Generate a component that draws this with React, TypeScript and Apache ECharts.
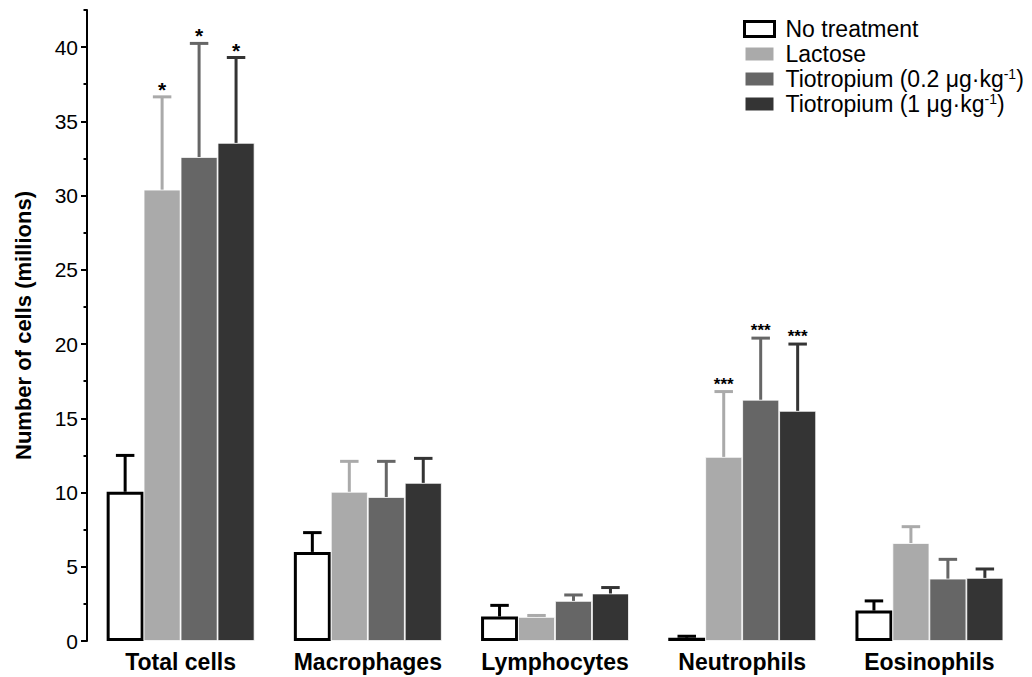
import React, { useEffect, useRef } from 'react';
import * as echarts from 'echarts';

const categories = ['Total cells', 'Macrophages', 'Lymphocytes', 'Neutrophils', 'Eosinophils'];
const treatments = ['No treatment', 'Lactose', 'Tiotropium (0.2 μg·kg⁻¹)', 'Tiotropium (1 μg·kg⁻¹)'];

const noTreatment = [10.05, 6.0, 1.65, 0.22, 2.05];
const noTreatmentSD = [2.45, 1.3, 0.75, 0.1, 0.65];
const lactose = [30.4, 10.05, 1.62, 12.4, 6.6];
const lactoseSD = [6.25, 2.05, 0.1, 4.4, 1.1];
const tio02 = [32.6, 9.7, 2.7, 16.25, 4.2];
const tio02SD = [7.65, 2.4, 0.4, 4.15, 1.3];
const tio1 = [33.55, 10.65, 3.2, 15.5, 4.25];
const tio1SD = [5.75, 1.65, 0.4, 4.5, 0.6];

const noTreatmentSig = ['', '', '', '', ''];
const lactoseSig = ['*', '', '', '***', ''];
const tio02Sig = ['*', '', '', '***', ''];
const tio1Sig = ['*', '', '', '***', ''];

const yTicks = [0, 5, 10, 15, 20, 25, 30, 35, 40];

const FONT = "'Liberation Sans', Arial, Helvetica, sans-serif";
const GAP = 0.21;

const colors = ['#000000', '#aaaaaa', '#666666', '#343434'];

function makeErr(t: number, means: number[], sds: number[], sig: string[], color: string) {
  return {
    type: 'custom',
    name: 'err' + t,
    coordinateSystem: 'cartesian2d',
    xAxisIndex: 0,
    yAxisIndex: 0,
    z: 5,
    silent: true,
    data: means.map((m, i) => [i, m + sds[i], m]),
    encode: { x: 0, y: 1 },
    renderItem: (params: any, api: any) => {
      const i = api.value(0);
      const top = api.value(1);
      const mean = api.value(2);
      const catW = api.size([1, 0])[0];
      const barW = (catW * (1 - GAP)) / 4;
      const base = api.coord([i, mean]);
      const pTop = api.coord([i, top]);
      const cx = base[0] + (t - 1.5) * barW;
      const capHalf = barW * 0.25;
      const children: any[] = [
        {
          type: 'line',
          shape: { x1: cx, y1: base[1], x2: cx, y2: pTop[1] },
          style: { stroke: color, lineWidth: 3 },
        },
        {
          type: 'line',
          shape: { x1: cx - capHalf, y1: pTop[1], x2: cx + capHalf, y2: pTop[1] },
          style: { stroke: color, lineWidth: 3 },
        },
      ];
      const s = sig[params.dataIndex];
      if (s) {
        const single = s.length === 1;
        children.push({
          type: 'text',
          x: cx,
          y: pTop[1] + (single ? 3 : 1),
          style: {
            text: s,
            fill: '#000',
            fontSize: single ? 21 : 17,
            fontWeight: 'bold',
            fontFamily: FONT,
            align: 'center',
            verticalAlign: 'bottom',
          },
        });
      }
      return { type: 'group', children };
    },
  };
}

export default function App() {
  const ref = useRef<HTMLDivElement>(null);

  useEffect(() => {
    document.body.style.margin = '0';
    if (!ref.current) return;
    const chart = echarts.init(ref.current, null, { renderer: 'svg' });

    const barBase = {
      type: 'bar',
      xAxisIndex: 0,
      yAxisIndex: 0,
      barGap: '0%',
      barCategoryGap: GAP * 100 + '%',
    };

    const option: any = {
      animation: false,
      backgroundColor: '#ffffff',
      textStyle: { fontFamily: FONT },
      grid: { left: 87, right: 9, top: 10, bottom: 36, outerBoundsMode: 'none' },
      legend: {
        data: [
          { name: treatments[0], itemStyle: { color: '#ffffff', borderColor: '#000000', borderWidth: 3 } },
          treatments[1],
          treatments[2],
          treatments[3],
        ],
        orient: 'vertical',
        left: 743,
        top: 17,
        padding: 0,
        itemWidth: 30,
        itemHeight: 15,
        itemGap: 1,
        icon: 'rect',
        selectedMode: false,
        formatter: (name: string) => {
          const parts = name.split('⁻¹');
          if (parts.length === 2) return `{n|${parts[0]}}{s|-1}{n|${parts[1]}}`;
          return `{n|${name}}`;
        },
        textStyle: {
          padding: [0, 0, 0, 6],
          lineHeight: 24,
          fontSize: 23,
          rich: {
            n: { fontSize: 23, lineHeight: 24, fontFamily: FONT, color: '#000' },
            s: { fontSize: 14, padding: [0, 0, 10, 0], fontFamily: FONT, color: '#000' },
          },
        },
      },
      xAxis: {
        type: 'category',
        data: categories,
        axisLine: { show: false },
        axisTick: { show: false },
        axisLabel: {
          interval: 0,
          margin: 9,
          fontSize: 23,
          fontWeight: 'bold',
          color: '#000',
          fontFamily: FONT,
        },
        splitLine: { show: false },
      },
      yAxis: [
        {
          type: 'value',
          min: 0,
          max: 42.5,
          interval: 2.5,
          axisLine: { show: true, lineStyle: { color: '#000', width: 2 } },
          axisTick: { show: true, length: 3.5, lineStyle: { color: '#000', width: 2 } },
          axisLabel: { show: false },
          splitLine: { show: false },
          name: 'Number of cells (millions)',
          nameLocation: 'middle',
          nameGap: 53,
          nameTextStyle: { fontSize: 22, fontWeight: 'bold', color: '#000', fontFamily: FONT },
        },
        {
          type: 'value',
          min: 0,
          max: 42.5,
          interval: 5,
          position: 'left',
          axisLine: { show: false },
          axisTick: { show: true, length: 6, customValues: yTicks, lineStyle: { color: '#000', width: 2 } },
          axisLabel: {
            show: true,
            customValues: yTicks,
            margin: 9,
            fontSize: 21,
            color: '#000',
            fontFamily: FONT,
            formatter: (v: number) => (v % 5 === 0 ? String(v) : ''),
          },
          splitLine: { show: false },
        },
      ],
      series: [
        {
          ...barBase,
          name: treatments[0],
          data: noTreatment,
          itemStyle: { color: '#ffffff', borderColor: '#000000', borderWidth: 3 },
        },
        {
          ...barBase,
          name: treatments[1],
          data: lactose,
          itemStyle: { color: colors[1], borderColor: '#ffffff', borderWidth: 0.8 },
        },
        {
          ...barBase,
          name: treatments[2],
          data: tio02,
          itemStyle: { color: colors[2], borderColor: '#ffffff', borderWidth: 0.8 },
        },
        {
          ...barBase,
          name: treatments[3],
          data: tio1,
          itemStyle: { color: colors[3], borderColor: '#ffffff', borderWidth: 0.8 },
        },
        makeErr(0, noTreatment, noTreatmentSD, noTreatmentSig, colors[0]),
        makeErr(1, lactose, lactoseSD, lactoseSig, colors[1]),
        makeErr(2, tio02, tio02SD, tio02Sig, colors[2]),
        makeErr(3, tio1, tio1SD, tio1Sig, colors[3]),
      ],
    };

    chart.setOption(option);
    return () => {
      chart.dispose();
    };
  }, []);

  return <div ref={ref} style={{ width: 1032, height: 677 }} />;
}
